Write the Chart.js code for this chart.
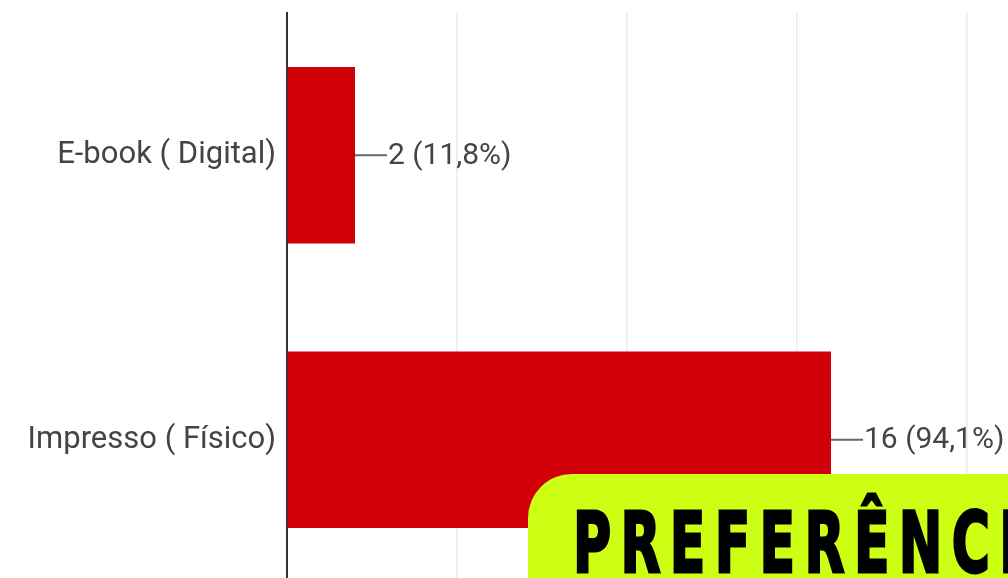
<!DOCTYPE html>
<html lang="pt-BR">
<head>
<meta charset="utf-8">
<script src="https://cdn.jsdelivr.net/npm/chart.js@4.4.1/dist/chart.umd.min.js"></script>
<style>
  html, body { margin: 0; padding: 0; background: #fff; overflow: hidden; width: 1008px; height: 578px; }
  #wrap { position: relative; width: 1008px; height: 600px; }
  #tag {
    position: absolute; left: 528px; top: 474px; width: 520px; height: 130px;
    background: #ccff14; border-top-left-radius: 44px; overflow: hidden;
  }
  #tag span {
    position: absolute; left: 45px; top: 20px;
    font: bold 84px "DejaVu Sans", sans-serif;
    color: #000; letter-spacing: 15px; white-space: nowrap;
    -webkit-text-stroke: 3px #000;
    transform: scaleX(0.62); transform-origin: 0 0;
  }
</style>
</head>
<body>
<div id="wrap">
  <canvas id="chart" width="1008" height="600"></canvas>
  <div id="tag"><span>PREFERÊNCIA</span></div>
</div>
<script>
  const categories = ["E-book ( Digital)", "Impresso ( Físico)"];
  const votes = [2, 16];
  const respondents = 17;
  const xMax = 20;

  function pct(v) {
    return (v / respondents * 100).toFixed(1).replace(".", ",") + "%";
  }

  // rótulo com linha-guia ao lado de cada barra
  const valueLabels = {
    id: "valueLabels",
    afterDatasetsDraw(chart) {
      const ctx = chart.ctx;
      const meta = chart.getDatasetMeta(0);
      ctx.save();
      ctx.font = "30px Roboto";
      ctx.fillStyle = "#444";
      ctx.strokeStyle = "#666";
      ctx.lineWidth = 2;
      ctx.textBaseline = "middle";
      meta.data.forEach((bar, i) => {
        ctx.beginPath();
        ctx.moveTo(bar.x, bar.y);
        ctx.lineTo(bar.x + 32, bar.y);
        ctx.stroke();
        ctx.fillText(votes[i] + " (" + pct(votes[i]) + ")", bar.x + 33, bar.y + 1);
      });
      ctx.restore();
    }
  };

  new Chart(document.getElementById("chart"), {
    type: "bar",
    data: {
      labels: categories,
      datasets: [{
        data: votes,
        backgroundColor: "#d10008",
        borderWidth: 0,
        categoryPercentage: 1,
        barPercentage: 0.62
      }]
    },
    options: {
      indexAxis: "y",
      responsive: false,
      animation: false,
      layout: { padding: { top: 13, bottom: 18, right: 41 } },
      plugins: { legend: { display: false }, tooltip: { enabled: false } },
      scales: {
        x: {
          min: 0,
          max: xMax,
          ticks: { display: false, stepSize: 5 },
          grid: { color: "#ebebeb", lineWidth: 1.5, drawTicks: false },
          border: { display: false },
          afterFit(s) { s.height = 0; s.paddingLeft = 0; s.paddingRight = 0; }
        },
        y: {
          grid: { display: false },
          border: { display: true, color: "#333", width: 2 },
          ticks: { color: "#444", font: { family: "Roboto", size: 31 }, padding: 3 },
          afterFit(s) { s.width = 287; s.paddingTop = 0; s.paddingBottom = 0; }
        }
      }
    },
    plugins: [valueLabels]
  });
</script>
</body>
</html>
